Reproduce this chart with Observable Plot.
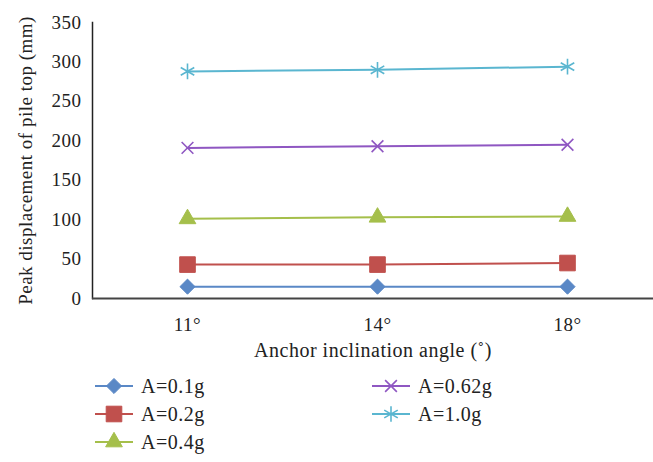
<!DOCTYPE html>
<html><head><meta charset="utf-8">
<script src="https://cdn.jsdelivr.net/npm/d3@7"></script>
<script src="https://cdn.jsdelivr.net/npm/@observablehq/plot@0.6"></script>
<style>
body{margin:0;background:#fff;font-family:"Liberation Serif",serif;}
#legend{display:grid;grid-template-rows:repeat(3,28px);grid-auto-flow:column;grid-template-columns:277px 240px;margin-left:95px;margin-top:7px;font-size:20px;letter-spacing:0.5px;color:#222;}
.item{display:flex;align-items:center;}
.item svg{margin-right:4px;}
</style></head><body>
<div id="chart"></div>
<div id="legend"></div>
<script>
const angles = ["11°","14°","18°"];
const seriesNames = ["A=0.1g","A=0.2g","A=0.4g","A=0.62g","A=1.0g"];
const colors = ["#5A88C6","#C0504D","#A5BF4B","#8F57C2","#5AB6D0"];
const symbols = ["diamond2","square","triangle","times","asterisk"];
const sizes = [6.8, 8.8, 6.2, 5.4, 7.4];
const v01 = [15,15,15];
const v02 = [43,43,45];
const v04 = [101,103,104];
const v062 = [191,193,195];
const v10 = [288,290,294];
const yTicks = [0,50,100,150,200,250,300,350];

const allVals = [v01,v02,v04,v062,v10];
const data = [];
seriesNames.forEach((s,i)=>angles.forEach((a,j)=>data.push({series:s, angle:a, value:allVals[i][j]})));
const open = s => ["times","asterisk"].includes(s);

const W = 653, H = 365;
const chart = Plot.plot({
  width: W, height: H,
  marginLeft: 92, marginRight: 0, marginTop: 22, marginBottom: 67,
  style:{fontFamily:"'Liberation Serif', serif", fontSize:"19px", color:"#222", background:"#fff", letterSpacing:"0.5px"},
  x:{type:"band", domain: angles, range:[92, 662], padding:0, label:null},
  y:{domain:[0,350], ticks: yTicks, label:null},
  color:{domain: seriesNames, range: colors},
  marks:[
    Plot.axisY({ticks: yTicks, tickSize:0, tickPadding:11, fontSize:19}),
    Plot.axisX({tickSize:0, tickPadding:19, fontSize:19}),
    Plot.axisY({ticks:[], label:"Peak displacement of pile top (mm)", labelAnchor:"center", labelOffset:74, labelArrow:"none", fontSize:19}),
    Plot.axisX({ticks:[], label:"Anchor inclination angle (˚)", labelAnchor:"center", labelOffset:58, labelArrow:"none", fontSize:20}),
    Plot.frame({anchor:"left", stroke:"#222", strokeWidth:1.5}),
    Plot.lineY(data, {x:"angle", y:"value", z:"series", stroke:"series", strokeWidth:2}),
    ...seriesNames.map((s,i)=>Plot.dot(data.filter(d=>d.series===s), {x:"angle", y:"value", symbol: symbols[i], fill: open(symbols[i]) ? "none" : colors[i], stroke: colors[i], r: sizes[i], strokeWidth: open(symbols[i]) ? 1.6 : 1})),
    Plot.ruleY([0], {stroke:"#444", strokeWidth:2})
  ]
});
document.getElementById("chart").appendChild(chart);

// legend
const leg = document.getElementById("legend");
const d3sym = {diamond2:d3.symbolDiamond2, square:d3.symbolSquare, triangle:d3.symbolTriangle, times:d3.symbolTimes, asterisk:d3.symbolAsterisk};
seriesNames.forEach((s,i)=>{
  const div = document.createElement("div"); div.className="item";
  const svg = d3.create("svg").attr("width",42).attr("height",22);
  svg.append("line").attr("x1",0).attr("x2",38).attr("y1",11).attr("y2",11).attr("stroke",colors[i]).attr("stroke-width",2);
  const filled = !open(symbols[i]);
  svg.append("path").attr("d", d3.symbol(d3sym[symbols[i]], Math.PI*sizes[i]*sizes[i])()).attr("transform","translate(19,11)")
    .attr("fill", filled?colors[i]:"none").attr("stroke",colors[i]).attr("stroke-width",filled?1:1.6);
  div.appendChild(svg.node());
  const t = document.createElement("span"); t.textContent = s; div.appendChild(t);
  leg.appendChild(div);
});
</script>
</body></html>
